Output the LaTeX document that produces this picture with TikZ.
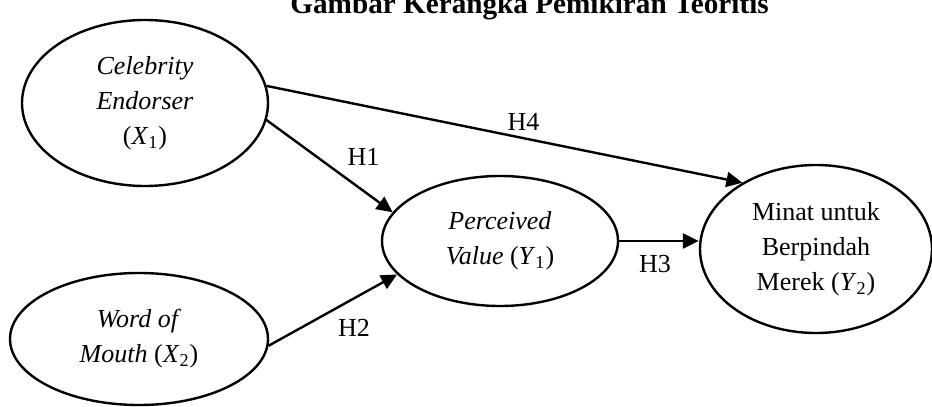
\documentclass[tikz,border=0pt]{standalone}
\usepackage{fontspec}
\setmainfont{Liberation Serif}
\usetikzlibrary{shapes.geometric,arrows.meta}

\begin{document}
\begin{tikzpicture}[x=0.5pt, y=-0.5pt, >={Triangle[length=8pt,width=7.5pt]},
    var/.style={draw, ellipse, line width=1.2pt, inner sep=0pt, align=center, font=\fontsize{13}{17.5}\selectfont},
    hyp/.style={font=\fontsize{13}{15}\selectfont}]
        \useasboundingbox (0,0) rectangle (932,407);
        % judul
        \node[anchor=base west, inner sep=0pt, font=\bfseries\fontsize{14.6}{16}\selectfont] (judul) at (290,13) {Gambar Kerangka Pemikiran Teoritis};

        % variabel
        \node[var, minimum width=123pt, minimum height=83pt] (ce) at (145,103) {\textit{Celebrity}\\\textit{Endorser}\\(\textit{X}\textsubscript{1})};
        \node[var, minimum width=129pt, minimum height=66pt] (wom) at (139,339) {\textit{Word of}\\\textit{Mouth} (\textit{X}\textsubscript{2})};
        \node[var, minimum width=118pt, minimum height=65pt] (pv) at (500,241) {\textit{Perceived}\\\textit{Value} (\textit{Y}\textsubscript{1})};
        \node[var, minimum width=116pt, minimum height=84pt] (mu) at (816,249) {Minat untuk\\Berpindah\\Merek (\textit{Y}\textsubscript{2})};

        % hipotesis
        \draw[->, line width=1.2pt] (ce.-8) -- node[hyp, above right, pos=0.58] {H1} (pv.165);
        \draw[->, line width=1.2pt] (wom.-3) -- node[hyp, below right, pos=0.48] {H2} (pv.198);
        \draw[->, line width=1.2pt] (pv.east) -- node[hyp, below=3pt, pos=0.45] {H3} (pv.east -| mu.west);
        \draw[->, line width=1.2pt] (ce.8) -- node[hyp, above, pos=0.54] {H4} (mu.138);
    \end{tikzpicture}
\end{document}
